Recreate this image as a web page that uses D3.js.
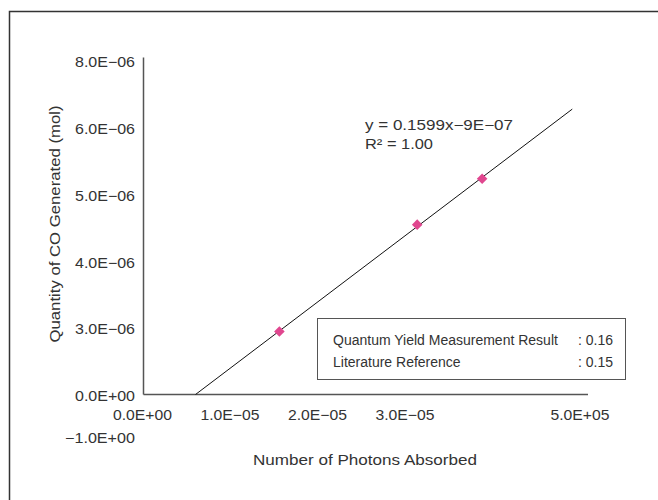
<!DOCTYPE html>
<html>
<head>
<meta charset="utf-8">
<script src="https://cdn.jsdelivr.net/npm/d3@7"></script>
<style>
  html, body { margin: 0; padding: 0; background: #fff; }
  svg text { font-family: "Liberation Sans", Arial, sans-serif; fill: #333; font-size: 14px; }
</style>
</head>
<body>
<svg id="chart" width="658" height="500"></svg>
<script>
// Measured samples (x in 1E-05 photon units, y in 1E-06 mol units along the axes)
const photons = [1.553, 3.128, 3.870];
const coMol   = [0.943, 2.545, 3.234];

// Axis ticks and their printed labels
const xTickValues = [0, 1, 2, 3, 5];
const xTickLabels = ["0.0E+00", "1.0E\u221205", "2.0E\u221205", "3.0E\u221205", "5.0E+05"];
const yTickValues = [0, 1, 2, 3, 4, 5];
const yTickLabels = ["0.0E+00", "3.0E\u221206", "4.0E\u221206", "5.0E\u221206", "6.0E\u221206", "8.0E\u221206"];
const yExtraTick = { value: -0.65, label: "\u22121.0E+00" };

const trendEndX = 4.9;
const equationLines = ["y = 0.1599x\u22129E\u221207", "R\u00b2 = 1.00"];
const resultLabels = ["Quantum Yield Measurement Result", "Literature Reference"];
const resultValues = [": 0.16", ": 0.15"];

const svg = d3.select("#chart");
const FONT = '"Liberation Sans", Arial, sans-serif';

// widen a text run to a set width (glyphs are stretched horizontally)
function fitWidth(sel, w) {
  sel.attr("textLength", w).attr("lengthAdjust", "spacingAndGlyphs");
}

// outer frame
svg.append("path")
  .attr("d", "M9.5,500 V11.5 H658")
  .attr("fill", "none").attr("stroke", "#333").attr("stroke-width", 1.5);

const x = d3.scaleLinear().domain([0, 5.08]).range([143.5, 588]);
const y = d3.scaleLinear().domain([0, 5.05]).range([394.5, 57.5]);

// axis lines
svg.append("line").attr("x1", x(0)).attr("x2", x(0)).attr("y1", y(0)).attr("y2", y(5.05))
  .attr("stroke", "#555").attr("stroke-width", 1.5);
svg.append("line").attr("x1", x(0)).attr("x2", x(5.08)).attr("y1", y(0)).attr("y2", y(0))
  .attr("stroke", "#555").attr("stroke-width", 1.5);

// y tick labels
const yAxis = d3.axisLeft(y).tickValues(yTickValues)
  .tickFormat((d, i) => yTickLabels[i]).tickSize(0).tickPadding(8.5);
const gy = svg.append("g").attr("transform", `translate(${x(0)},1.5)`).call(yAxis);
gy.select(".domain").remove();
gy.selectAll("text").style("font-size", "14.5px").attr("fill", "#333").style("font-family", FONT)
  .call(fitWidth, 60);
svg.append("text").attr("x", x(0) - 8.5).attr("y", y(yExtraTick.value) + 5)
  .style("font-size", "14.5px").attr("text-anchor", "end").text(yExtraTick.label).call(fitWidth, 70);

// x tick labels
const xAxis = d3.axisBottom(x).tickValues(xTickValues)
  .tickFormat((d, i) => xTickLabels[i]).tickSize(0).tickPadding(15);
const gx = svg.append("g").attr("transform", `translate(-1.5,${y(0)})`).call(xAxis);
gx.select(".domain").remove();
gx.selectAll("text").style("font-size", "14.5px").attr("fill", "#333").style("font-family", FONT)
  .call(fitWidth, 59);

// axis titles
svg.append("text").attr("x", 365).attr("y", 465).attr("text-anchor", "middle")
  .text("Number of Photons Absorbed").call(fitWidth, 224);
svg.append("text").attr("transform", "translate(60,224) rotate(-90)")
  .attr("text-anchor", "middle")
  .text("Quantity of CO Generated (mol)").call(fitWidth, 237);

// least-squares trendline through the samples
const mx = d3.mean(photons), my = d3.mean(coMol);
const sxy = d3.sum(photons, (v, i) => (v - mx) * (coMol[i] - my));
const sxx = d3.sum(photons, v => (v - mx) * (v - mx));
const slope = sxy / sxx, intercept = my - slope * mx;
const trendStartX = -intercept / slope;
svg.append("line")
  .attr("x1", x(trendStartX)).attr("y1", y(0))
  .attr("x2", x(trendEndX)).attr("y2", y(slope * trendEndX + intercept))
  .attr("stroke", "#111").attr("stroke-width", 1);

// sample markers
svg.append("g").selectAll("path").data(photons).join("path")
  .attr("d", d3.symbol(d3.symbolSquare, 56)())
  .attr("transform", (d, i) => `translate(${x(d)},${y(coMol[i])}) rotate(45)`)
  .attr("fill", "#e0478f");

// regression equation
const eqWidths = [148, 68];
svg.append("g").selectAll("text").data(equationLines).join("text")
  .attr("x", 365).attr("y", (d, i) => 130 + i * 19)
  .text(d => d)
  .each(function (d, i) { d3.select(this).call(fitWidth, eqWidths[i]); });

// result box
svg.append("rect").attr("x", 317.5).attr("y", 318.5).attr("width", 308).attr("height", 61)
  .attr("fill", "#fff").attr("stroke", "#555").attr("stroke-width", 1);
svg.append("g").selectAll("text").data(resultLabels).join("text")
  .attr("x", 333).attr("y", (d, i) => 345 + i * 22)
  .text(d => d);
svg.append("g").selectAll("text").data(resultValues).join("text")
  .attr("x", 613).attr("y", (d, i) => 345 + i * 22).attr("text-anchor", "end")
  .text(d => d);
</script>
</body>
</html>
